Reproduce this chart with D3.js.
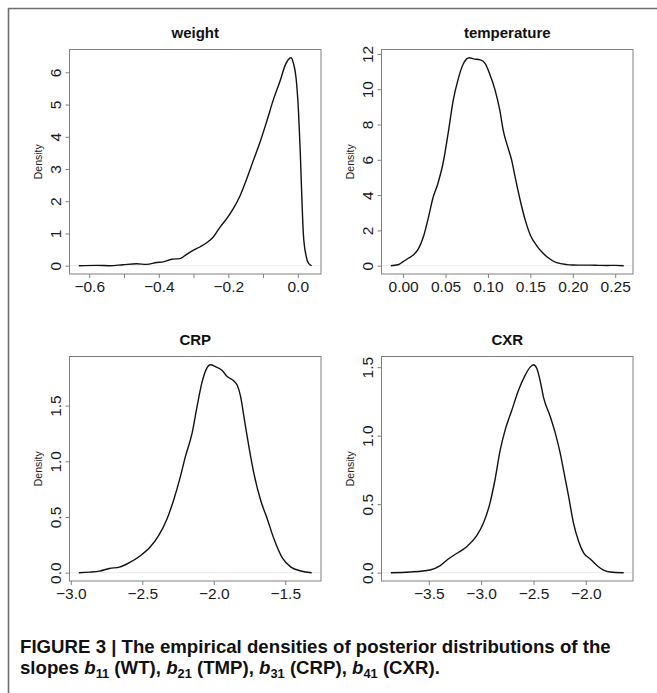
<!DOCTYPE html>
<html>
<head>
<meta charset="utf-8">
<script src="https://cdn.jsdelivr.net/npm/d3@7"></script>
<style>
  body { margin: 0; background: #fff; }
  svg { display: block; }
  text { font-family: "Liberation Sans", Arial, Helvetica, sans-serif; }
</style>
</head>
<body>
<svg id="chart" width="657" height="693"></svg>
<script>
// Posterior density estimates of the four slopes
const weightX = [-0.630,-0.579,-0.541,-0.503,-0.464,-0.435,-0.406,-0.387,-0.363,-0.339,-0.320,-0.305,-0.282,-0.262,-0.243,-0.224,-0.205,-0.186,-0.166,-0.147,-0.128,-0.109,-0.089,-0.070,-0.051,-0.037,-0.027,-0.020,-0.013,-0.005,0.002,0.007,0.012,0.016,0.024,0.031,0.040];
const weightY = [0.00,0.01,0.00,0.03,0.06,0.04,0.10,0.12,0.20,0.22,0.35,0.45,0.58,0.71,0.89,1.19,1.45,1.76,2.17,2.69,3.26,3.82,4.49,5.16,5.73,6.20,6.40,6.45,6.30,5.83,4.80,3.57,2.02,0.99,0.30,0.07,0.00];

const tempX = [-0.0145,-0.006,0.000,0.006,0.012,0.018,0.024,0.030,0.035,0.041,0.047,0.053,0.059,0.065,0.071,0.078,0.083,0.091,0.097,0.102,0.108,0.114,0.118,0.124,0.128,0.132,0.138,0.144,0.150,0.157,0.165,0.173,0.181,0.193,0.201,0.210,0.220,0.230,0.240,0.250,0.260];
const tempY = [0.00,0.05,0.23,0.42,0.60,0.95,1.65,2.77,3.81,4.66,5.79,7.48,9.36,10.59,11.44,11.78,11.72,11.66,11.44,10.87,10.02,8.80,7.67,6.63,5.97,5.03,3.71,2.58,1.73,1.17,0.70,0.38,0.17,0.06,0.04,0.03,0.03,0.02,0.01,0.02,0.00];

const crpX = [-2.944,-2.867,-2.800,-2.730,-2.660,-2.590,-2.516,-2.445,-2.387,-2.328,-2.281,-2.234,-2.199,-2.152,-2.117,-2.082,-2.051,-2.023,-1.988,-1.941,-1.906,-1.859,-1.835,-1.812,-1.789,-1.754,-1.719,-1.672,-1.625,-1.578,-1.519,-1.460,-1.390,-1.315];
const crpY = [0.000,0.005,0.014,0.038,0.050,0.090,0.150,0.230,0.330,0.480,0.650,0.860,1.040,1.250,1.490,1.710,1.830,1.866,1.850,1.815,1.760,1.720,1.680,1.580,1.400,1.130,0.890,0.650,0.480,0.300,0.130,0.050,0.015,0.000];

const cxrX = [-3.863,-3.681,-3.490,-3.394,-3.314,-3.234,-3.138,-3.042,-2.979,-2.915,-2.867,-2.819,-2.771,-2.707,-2.644,-2.580,-2.532,-2.500,-2.468,-2.436,-2.404,-2.340,-2.292,-2.244,-2.213,-2.165,-2.117,-2.069,-2.021,-1.957,-1.894,-1.830,-1.766,-1.638];
const cxrY = [0.000,0.005,0.020,0.050,0.100,0.140,0.190,0.270,0.360,0.510,0.680,0.890,1.040,1.185,1.330,1.440,1.500,1.517,1.490,1.400,1.280,1.140,1.020,0.870,0.750,0.560,0.360,0.230,0.145,0.100,0.053,0.019,0.005,0.000];

// Axis ticks and their labels (blank labels are unlabelled ticks)
const weightXTicks = [-0.6,-0.5,-0.4,-0.3,-0.2,-0.1,0.0];
const weightXLabels = ["\u22120.6","","\u22120.4","","\u22120.2","","0.0"];
const weightYTicks = [0,1,2,3,4,5,6];
const weightYLabels = ["0","1","2","3","4","5","6"];

const tempXTicks = [0.00,0.05,0.10,0.15,0.20,0.25];
const tempXLabels = ["0.00","0.05","0.10","0.15","0.20","0.25"];
const tempYTicks = [0,2,4,6,8,10,12];
const tempYLabels = ["0","2","4","6","8","10","12"];

const crpXTicks = [-3.0,-2.5,-2.0,-1.5];
const crpXLabels = ["\u22123.0","\u22122.5","\u22122.0","\u22121.5"];
const crpYTicks = [0,0.5,1.0,1.5];
const crpYLabels = ["0.0","0.5","1.0","1.5"];

const cxrXTicks = [-3.5,-3.0,-2.5,-2.0];
const cxrXLabels = ["\u22123.5","\u22123.0","\u22122.5","\u22122.0"];
const cxrYTicks = [0,0.5,1.0,1.5];
const cxrYLabels = ["0.0","0.5","1.0","1.5"];

const titles = ["weight","temperature","CRP","CXR"];

const panels = [
  {title: titles[0], x: weightX, y: weightY, xt: weightXTicks, xl: weightXLabels, yt: weightYTicks, yl: weightYLabels, left: 69.5, top: 49.5},
  {title: titles[1], x: tempX, y: tempY, xt: tempXTicks, xl: tempXLabels, yt: tempYTicks, yl: tempYLabels, left: 381.5, top: 49.5},
  {title: titles[2], x: crpX, y: crpY, xt: crpXTicks, xl: crpXLabels, yt: crpYTicks, yl: crpYLabels, left: 69.5, top: 356.5},
  {title: titles[3], x: cxrX, y: cxrY, xt: cxrXTicks, xl: cxrXLabels, yt: cxrYTicks, yl: cxrYLabels, left: 381.5, top: 356.5}
];

const boxW = 251.5, boxH = 224.5;
const tickFont = 15.5;
const svg = d3.select("#chart");

// outer figure frame (left and top edges)
svg.append("path")
  .attr("d", "M8.5,693V8.5H657")
  .attr("fill", "none")
  .attr("stroke", "#6e6e6e")
  .attr("stroke-width", 1.6);

// R-style axis range: data range widened by 4% on each side
function padded(lo, hi) {
  const e = (hi - lo) * 0.04;
  return [lo - e, hi + e];
}

panels.forEach(p => {
  const g = svg.append("g").attr("transform", `translate(${p.left},${p.top})`);
  const xs = d3.scaleLinear().domain(padded(d3.min(p.x), d3.max(p.x))).range([0, boxW]);
  const ys = d3.scaleLinear().domain(padded(0, d3.max(p.y))).range([boxH, 0]);

  // zero reference line
  g.append("line")
    .attr("x1", 0).attr("x2", boxW)
    .attr("y1", ys(0)).attr("y2", ys(0))
    .attr("stroke", "#ececec").attr("stroke-width", 1);

  // density curve
  const pts = p.x.map((v, i) => [v, p.y[i]]);
  g.append("path")
    .datum(pts)
    .attr("fill", "none")
    .attr("stroke", "#111")
    .attr("stroke-width", 1.4)
    .attr("d", d3.line().x(d => xs(d[0])).y(d => ys(d[1])).curve(d3.curveMonotoneX));

  // plot box
  g.append("rect")
    .attr("x", 0).attr("y", 0).attr("width", boxW).attr("height", boxH)
    .attr("fill", "none").attr("stroke", "#808080").attr("stroke-width", 1);

  // x axis
  const xa = g.append("g").attr("transform", `translate(0,${boxH})`)
    .call(d3.axisBottom(xs).tickValues(p.xt).tickFormat((d, i) => p.xl[i]).tickSize(4).tickSizeOuter(0).tickPadding(2.5));
  xa.select(".domain").remove();
  xa.selectAll(".tick line").attr("stroke", "#808080");
  xa.selectAll(".tick text").attr("font-size", tickFont).attr("fill", "#1a1a1a")
    .style("font-family", '"Liberation Sans", Arial, sans-serif');

  // y axis with rotated labels
  const ya = g.append("g")
    .call(d3.axisLeft(ys).tickValues(p.yt).tickFormat((d, i) => p.yl[i]).tickSize(4).tickSizeOuter(0));
  ya.select(".domain").remove();
  ya.selectAll(".tick line").attr("stroke", "#808080");
  ya.selectAll(".tick text")
    .attr("x", 0).attr("y", 0).attr("dy", 0)
    .attr("text-anchor", "middle")
    .attr("transform", "translate(-9,0) rotate(-90)")
    .attr("font-size", tickFont).attr("fill", "#1a1a1a")
    .style("font-family", '"Liberation Sans", Arial, sans-serif');

  // panel title
  g.append("text")
    .attr("x", boxW / 2).attr("y", -11.5)
    .attr("text-anchor", "middle")
    .attr("font-size", 15).attr("font-weight", "bold").attr("fill", "#111")
    .text(p.title);

  // y axis title
  g.append("text")
    .attr("transform", `translate(-28,${boxH / 2}) rotate(-90)`)
    .attr("text-anchor", "middle")
    .attr("font-size", 10.5).attr("fill", "#222")
    .text("Density");
});

// caption
const cap = svg.append("g");
const capFont = '"Liberation Sans Narrow", "Liberation Sans", Arial, sans-serif';
const line1 = cap.append("text")
  .attr("font-size", 17.5).attr("font-weight", "bold").attr("fill", "#111")
  .style("font-family", capFont)
  .text("FIGURE 3 | The empirical densities of posterior distributions of the");

const line2 = cap.append("text")
  .attr("font-size", 17.5).attr("font-weight", "bold").attr("fill", "#111")
  .style("font-family", capFont);
const slopeParts = [["b","11"," (WT), "],["b","21"," (TMP), "],["b","31"," (CRP), "],["b","41"," (CXR)."]];
line2.append("tspan").text("slopes ");
slopeParts.forEach(s => {
  line2.append("tspan").attr("font-style", "italic").text(s[0]);
  line2.append("tspan").attr("font-size", 12).attr("dy", 4).text(s[1]);
  line2.append("tspan").attr("dy", -4).text(s[2]);
});

const w1 = line1.node().getComputedTextLength();
const sx = 591 / w1;
line1.attr("transform", `translate(20,653) scale(${sx},1)`);
line2.attr("transform", `translate(20,674) scale(${sx},1)`);
</script>
</body>
</html>
